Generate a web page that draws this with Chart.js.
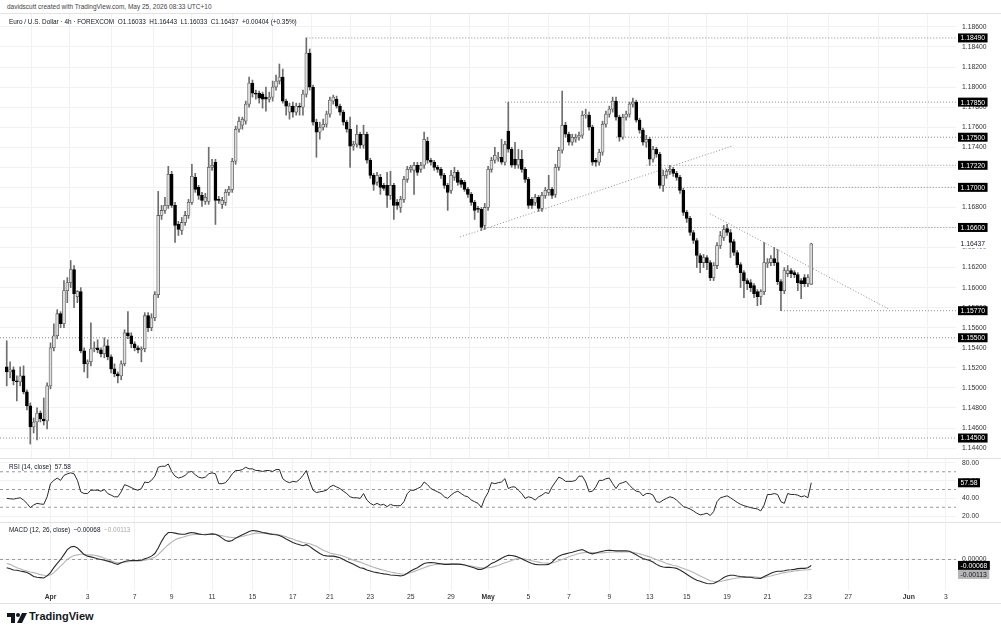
<!DOCTYPE html>
<html>
<head>
<meta charset="utf-8">
<script src="https://cdn.jsdelivr.net/npm/chart.js@4.4.1/dist/chart.umd.min.js"></script>
<style>
  body { margin: 0; background: #fff; width: 1001px; height: 637px; overflow: hidden; position: relative;
         font-family: 'Liberation Sans', Arial, sans-serif; color: #131722; }
  .pane { position: absolute; left: 0; width: 1001px; }
  .txt { position: absolute; white-space: nowrap; font-size: 6.4px; line-height: 8px; }
  .sep { position: absolute; left: 0; width: 1001px; height: 1px; background: #e2e2e2; }
</style>
</head>
<body>
<div class="txt" style="left:7px;top:3px;color:#444;font-size:6.5px">davidscutt created with TradingView.com, May 25, 2026 08:33 UTC+10</div>
<div class="sep" style="top:13px"></div>
<div class="pane" style="top:14px;height:444px"><canvas id="main" width="1001" height="444"></canvas></div>
<div class="sep" style="top:458px"></div>
<div class="pane" style="top:459px;height:63px"><canvas id="rsi" width="1001" height="63"></canvas></div>
<div class="sep" style="top:522px"></div>
<div class="pane" style="top:523px;height:80px"><canvas id="macd" width="1001" height="80"></canvas></div>
<div class="sep" style="top:603px"></div>

<div class="txt" style="left:9px;top:18px">Euro / U.S. Dollar · 4h · FOREXCOM&nbsp;&nbsp;O1.16033&nbsp;&nbsp;H1.16443&nbsp;&nbsp;L1.16033&nbsp;&nbsp;C1.16437&nbsp;&nbsp;+0.00404 (+0.35%)</div>
<div class="txt" style="left:9px;top:463px">RSI (14, close)&nbsp;&nbsp;57.58</div>
<div class="txt" style="left:9px;top:526px">MACD (12, 26, close)&nbsp;&nbsp;−0.00068&nbsp;&nbsp;<span style="color:#aaa">−0.00113</span></div>

<svg style="position:absolute;left:7px;top:613px" width="21" height="10" viewBox="0 0 21 10">
  <path d="M0 0h8v10h-4v-6h-4z" fill="#131722"/>
  <circle cx="11" cy="2" r="2" fill="#131722"/>
  <path d="M15 0h5l-5 10h-5z" fill="#131722"/>
</svg>
<div style="position:absolute;left:29px;top:610px;font-size:11px;font-weight:bold;color:#131722;font-family:'Liberation Sans',Arial,sans-serif">TradingView</div>

<script>
// ---- time axis (bar index of the first bar of each labelled day) ----
var tickBars   = [13, 24, 38, 49, 61, 73, 85, 96, 108, 120, 132, 143, 155, 167, 179, 191, 202, 214, 226, 238, 250, 268, 279];
var tickLabels = ['Apr', '3', '7', '9', '11', '15', '17', '21', '23', '25', '29', 'May', '5', '7', '9', '13', '15', '19', '21', '23', '27', 'Jun', '3'];

// ---- EUR/USD 4h candles ----
var opens = [
  1.1521,1.1516,1.1518,1.1507,1.1506,1.1512,1.1496,1.1482,1.1461,1.1466,
  1.1475,1.1469,1.1467,1.1502,1.1540,1.1552,1.1574,1.1564,1.1597,1.1605,
  1.1618,1.1591,1.1596,1.1537,1.1524,1.1526,1.1539,1.1540,1.1538,1.1534,
  1.1542,1.1531,1.1519,1.1514,1.1512,1.1524,1.1555,1.1552,1.1544,1.1540,
  1.1538,1.1539,1.1572,1.1560,1.1570,1.1593,1.1672,1.1677,1.1682,1.1713,
  1.1682,1.1663,1.1657,1.1665,1.1672,1.1685,1.1710,1.1700,1.1692,1.1686,
  1.1686,1.1720,1.1725,1.1688,1.1683,1.1685,1.1695,1.1698,1.1726,1.1758,
  1.1762,1.1766,1.1783,1.1804,1.1794,1.1794,1.1793,1.1790,1.1788,1.1790,
  1.1800,1.1806,1.1810,1.1786,1.1775,1.1781,1.1775,1.1781,1.1780,1.1793,
  1.1834,1.1800,1.1765,1.1755,1.1760,1.1763,1.1773,1.1786,1.1788,1.1781,
  1.1775,1.1765,1.1758,1.1741,1.1743,1.1753,1.1742,1.1753,1.1727,1.1712,
  1.1705,1.1710,1.1702,1.1702,1.1692,1.1702,1.1685,1.1680,1.1688,1.1708,
  1.1718,1.1717,1.1722,1.1718,1.1722,1.1746,1.1727,1.1725,1.1720,1.1718,
  1.1712,1.1702,1.1697,1.1710,1.1715,1.1707,1.1705,1.1698,1.1693,1.1685,
  1.1679,1.1678,1.1662,1.1680,1.1718,1.1727,1.1729,1.1730,1.1725,1.1756,
  1.1738,1.1728,1.1722,1.1728,1.1718,1.1708,1.1688,1.1685,1.1690,1.1679,
  1.1692,1.1695,1.1698,1.1693,1.1720,1.1737,1.1762,1.1753,1.1745,1.1748,
  1.1750,1.1752,1.1772,1.1772,1.1760,1.1727,1.1725,1.1735,1.1763,1.1773,
  1.1778,1.1786,1.1770,1.1750,1.1770,1.1773,1.1783,1.1785,1.1767,1.1757,
  1.1745,1.1748,1.1728,1.1738,1.1733,1.1702,1.1712,1.1716,1.1718,1.1714,
  1.1710,1.1697,1.1675,1.1669,1.1655,1.1647,1.1632,1.1625,1.1630,1.1625,
  1.1610,1.1622,1.1642,1.1650,1.1659,1.1655,1.1646,1.1635,1.1623,1.1615,
  1.1607,1.1605,1.1602,1.1596,1.1591,1.1596,1.1624,1.1625,1.1629,1.1625,
  1.1606,1.1597,1.1614,1.1617,1.1615,1.1613,1.1607,1.1610,1.1604,1.16033
];
var highs = [
  1.1547,1.1526,1.1521,1.1512,1.1521,1.1522,1.1498,1.1485,1.1470,1.1480,
  1.1477,1.1490,1.1505,1.1545,1.1564,1.1578,1.1576,1.1607,1.1610,1.1627,
  1.1622,1.1597,1.1600,1.1540,1.1528,1.1565,1.1546,1.1548,1.1540,1.1550,
  1.1548,1.1533,1.1524,1.1516,1.1527,1.1558,1.1576,1.1555,1.1546,1.1542,
  1.1541,1.1575,1.1575,1.1574,1.1596,1.1696,1.1682,1.1690,1.1721,1.1716,
  1.1685,1.1666,1.1670,1.1676,1.1688,1.1723,1.1714,1.1702,1.1695,1.1694,
  1.1740,1.1728,1.1728,1.1691,1.1690,1.1698,1.1701,1.1729,1.1761,1.1770,
  1.1770,1.1786,1.1810,1.1807,1.1797,1.1796,1.1795,1.1800,1.1795,1.1806,
  1.1812,1.1823,1.1818,1.1788,1.1784,1.1785,1.1784,1.1784,1.1797,1.1849,
  1.1838,1.1802,1.1768,1.1765,1.1768,1.1776,1.1790,1.1792,1.1791,1.1783,
  1.1777,1.1767,1.1770,1.1746,1.1762,1.1755,1.1762,1.1755,1.1729,1.1714,
  1.1715,1.1713,1.1704,1.1715,1.1716,1.1704,1.1688,1.1691,1.1711,1.1721,
  1.1722,1.1725,1.1725,1.1725,1.1755,1.1750,1.1729,1.1727,1.1722,1.1720,
  1.1714,1.1704,1.1717,1.1720,1.1717,1.1709,1.1707,1.1700,1.1695,1.1687,
  1.1681,1.1680,1.1684,1.1721,1.1730,1.1740,1.1735,1.1748,1.1746,1.1785,
  1.1740,1.1745,1.1738,1.1737,1.1720,1.1710,1.1690,1.1693,1.1692,1.1695,
  1.1700,1.1712,1.1700,1.1723,1.1740,1.1796,1.1765,1.1755,1.1753,1.1753,
  1.1755,1.1776,1.1778,1.1775,1.1762,1.1729,1.1738,1.1766,1.1776,1.1781,
  1.1790,1.1790,1.1772,1.1773,1.1776,1.1785,1.1789,1.1787,1.1769,1.1759,
  1.1752,1.1750,1.1741,1.1740,1.1735,1.1717,1.1718,1.1722,1.1720,1.1716,
  1.1712,1.1699,1.1677,1.1671,1.1657,1.1649,1.1634,1.1633,1.1632,1.1627,
  1.1625,1.1645,1.1656,1.1662,1.1663,1.1658,1.1648,1.1637,1.1625,1.1617,
  1.1609,1.1608,1.1604,1.1598,1.1598,1.1645,1.1629,1.1632,1.1640,1.1638,
  1.1608,1.1620,1.1622,1.1619,1.1617,1.1615,1.1609,1.1613,1.1613,1.16443
];
var lows = [
  1.1502,1.1510,1.1503,1.1487,1.1502,1.1494,1.1478,1.1444,1.1455,1.1448,
  1.1466,1.1463,1.1459,1.1499,1.1537,1.1549,1.1560,1.1560,1.1585,1.1600,
  1.1580,1.1585,1.1535,1.1516,1.1510,1.1522,1.1536,1.1535,1.1531,1.1530,
  1.1528,1.1515,1.1511,1.1505,1.1508,1.1522,1.1549,1.1540,1.1537,1.1535,
  1.1526,1.1536,1.1556,1.1557,1.1567,1.1590,1.1668,1.1674,1.1679,1.1680,
  1.1645,1.1652,1.1653,1.1662,1.1669,1.1683,1.1695,1.1688,1.1681,1.1683,
  1.1683,1.1717,1.1663,1.1684,1.1679,1.1682,1.1692,1.1695,1.1723,1.1755,
  1.1758,1.1763,1.1780,1.1790,1.1788,1.1784,1.1779,1.1776,1.1785,1.1786,
  1.1797,1.1803,1.1784,1.1772,1.1768,1.1770,1.1772,1.1772,1.1772,1.1790,
  1.1797,1.1762,1.1730,1.1748,1.1757,1.1760,1.1770,1.1783,1.1779,1.1772,
  1.1762,1.1755,1.1720,1.1737,1.1740,1.1739,1.1739,1.1724,1.1709,1.1697,
  1.1702,1.1693,1.1697,1.1680,1.1688,1.1668,1.1678,1.1675,1.1685,1.1705,
  1.1715,1.1693,1.1712,1.1715,1.1719,1.1724,1.1722,1.1717,1.1715,1.1709,
  1.1699,1.1677,1.1694,1.1707,1.1702,1.1700,1.1696,1.1690,1.1682,1.1668,
  1.1675,1.1657,1.1658,1.1677,1.1715,1.1724,1.1726,1.1723,1.1722,1.1735,
  1.1720,1.1719,1.1719,1.1715,1.1705,1.1679,1.1679,1.1682,1.1676,1.1676,
  1.1689,1.1692,1.1689,1.1690,1.1717,1.1734,1.1750,1.1742,1.1742,1.1745,
  1.1747,1.1749,1.1769,1.1757,1.1722,1.1721,1.1722,1.1732,1.1760,1.1770,
  1.1775,1.1767,1.1746,1.1748,1.1767,1.1770,1.1780,1.1765,1.1754,1.1742,
  1.1740,1.1722,1.1725,1.1730,1.1699,1.1696,1.1709,1.1713,1.1711,1.1707,
  1.1694,1.1672,1.1665,1.1652,1.1644,1.1620,1.1615,1.1620,1.1618,1.1607,
  1.1607,1.1619,1.1639,1.1647,1.1652,1.1630,1.1632,1.1620,1.1600,1.1590,
  1.1598,1.1596,1.1590,1.1582,1.1583,1.1593,1.1620,1.1622,1.1622,1.1603,
  1.1577,1.1594,1.1611,1.1610,1.1610,1.1597,1.1589,1.1601,1.1601,1.16033
];
var closes = [
  1.1516,1.1518,1.1507,1.1506,1.1512,1.1496,1.1482,1.1461,1.1466,1.1475,
  1.1469,1.1467,1.1502,1.1540,1.1552,1.1574,1.1564,1.1597,1.1605,1.1618,
  1.1594,1.1596,1.1537,1.1524,1.1526,1.1539,1.1540,1.1538,1.1534,1.1542,
  1.1531,1.1519,1.1514,1.1512,1.1524,1.1555,1.1552,1.1544,1.1540,1.1538,
  1.1539,1.1572,1.1560,1.1570,1.1593,1.1672,1.1677,1.1682,1.1713,1.1682,
  1.1662,1.1658,1.1665,1.1672,1.1685,1.1711,1.1698,1.1692,1.1687,1.1690,
  1.1720,1.1722,1.1687,1.1687,1.1687,1.1695,1.1698,1.1726,1.1758,1.1766,
  1.1768,1.1783,1.1804,1.1794,1.1793,1.1789,1.1788,1.1788,1.1790,1.1800,
  1.1806,1.1810,1.1786,1.1781,1.1781,1.1775,1.1781,1.1780,1.1793,1.1834,
  1.1800,1.1765,1.1755,1.1760,1.1763,1.1773,1.1787,1.1790,1.1781,1.1775,
  1.1765,1.1758,1.1741,1.1743,1.1753,1.1742,1.1753,1.1727,1.1712,1.1703,
  1.1712,1.1700,1.1699,1.1692,1.1702,1.1682,1.1682,1.1688,1.1708,1.1718,
  1.1720,1.1722,1.1715,1.1722,1.1748,1.1727,1.1725,1.1720,1.1718,1.1712,
  1.1702,1.1695,1.1712,1.1715,1.1705,1.1703,1.1698,1.1693,1.1685,1.1677,
  1.1678,1.1660,1.1680,1.1718,1.1727,1.1732,1.1730,1.1725,1.1743,1.1738,
  1.1722,1.1722,1.1728,1.1718,1.1708,1.1682,1.1682,1.1690,1.1679,1.1692,
  1.1697,1.1698,1.1692,1.1720,1.1737,1.1762,1.1753,1.1745,1.1750,1.1750,
  1.1752,1.1772,1.1773,1.1760,1.1725,1.1725,1.1735,1.1763,1.1773,1.1778,
  1.1786,1.1770,1.1750,1.1770,1.1773,1.1783,1.1785,1.1767,1.1757,1.1745,
  1.1748,1.1728,1.1738,1.1733,1.1702,1.1712,1.1716,1.1718,1.1714,1.1710,
  1.1697,1.1675,1.1669,1.1655,1.1647,1.1632,1.1625,1.1630,1.1625,1.1610,
  1.1622,1.1642,1.1652,1.1658,1.1655,1.1645,1.1635,1.1623,1.1615,1.1607,
  1.1604,1.1600,1.1594,1.1591,1.1596,1.1625,1.1625,1.1629,1.1625,1.1606,
  1.1597,1.1617,1.1617,1.1614,1.1613,1.1605,1.1604,1.1604,1.1610,1.16437
];

// ---- drawn levels and trendlines ----
var levelPrices = [1.1849, 1.1785, 1.1750, 1.1722, 1.1700, 1.1660, 1.1577, 1.1550, 1.1450];
var levelFrom   = [89, 148, 181, 190, 194, 141, 230, -2, -2];
var trendUp   = [[134.7, 1.16505], [215.9, 1.17417]];
var trendDown = [[208.9, 1.16738], [261.8, 1.15790]];

var priceTicks = [1.144, 1.146, 1.148, 1.150, 1.152, 1.154, 1.156, 1.158, 1.160, 1.162, 1.164,
                  1.166, 1.168, 1.170, 1.172, 1.174, 1.176, 1.178, 1.180, 1.182, 1.184, 1.186];

// ---- RSI (14, close) ----
var rsi = [
  40.0,39.6,39.2,40.0,40.7,38.1,34.4,29.6,32.5,34.4,
  33.7,33.3,41.8,56.6,60.3,62.9,60.3,65.9,67.7,68.8,
  67.7,60.3,47.4,45.5,45.5,49.2,49.2,49.2,48.1,50.0,
  45.5,43.7,41.8,41.8,47.4,55.5,54.0,52.2,50.3,49.2,
  51.1,58.5,57.7,60.3,65.1,75.1,76.2,76.2,78.8,70.3,
  65.1,62.9,64.0,65.9,69.6,70.3,66.6,64.0,62.9,64.0,
  67.7,68.8,67.7,56.6,56.6,57.7,62.2,67.7,71.4,71.4,
  72.5,75.1,73.3,73.3,71.4,71.4,70.3,71.4,71.4,70.3,
  72.5,72.5,62.2,59.2,57.7,59.2,58.5,61.4,65.9,71.4,
  59.2,49.2,46.6,47.4,48.1,49.2,52.9,54.8,52.9,51.1,
  48.1,45.5,41.8,40.7,40.7,40.0,45.5,38.1,34.4,32.5,
  34.4,32.5,33.3,30.7,33.3,31.8,31.8,31.8,36.3,45.5,
  49.2,49.2,51.1,52.9,58.5,55.5,51.1,49.2,47.4,45.5,
  41.8,40.0,43.7,46.6,48.1,45.5,42.9,41.8,38.1,36.3,
  34.4,30.0,40.0,46.6,57.7,56.6,57.7,58.5,62.2,
  51.1,52.9,52.9,49.2,45.5,40.0,41.8,40.7,38.1,41.8,
  43.7,46.6,45.5,52.9,58.5,64.0,62.2,59.2,59.2,59.2,
  60.3,65.1,65.1,58.5,47.4,48.1,52.9,60.3,60.3,62.2,
  62.9,56.6,51.1,56.6,57.7,59.2,54.8,51.1,48.1,47.4,
  42.9,45.5,45.5,43.7,36.3,35.5,38.1,40.0,41.8,40.7,
  38.1,34.4,30.7,29.6,28.1,25.9,23.3,21.4,22.2,23.3,
  20.7,25.1,36.3,40.7,41.8,42.9,40.7,38.1,35.5,33.3,
  31.8,30.7,29.6,28.8,28.1,25.9,32.5,44.4,44.4,45.5,
  44.4,36.3,34.4,45.5,44.4,44.4,43.7,41.8,42.9,40.7,
  57.58
];
var rsiLevels = [70, 50, 30];
var rsiTicks = [20, 40, 60, 80];

// ---- MACD (12, 26, close) ----
var macd = [
  -0.00094,-0.00105,-0.00120,-0.00124,-0.00132,-0.00139,-0.00150,-0.00169,-0.00195,-0.00203,
  -0.00207,-0.00211,-0.00188,-0.00150,-0.00094,-0.00045,0,0.00056,0.00113,0.00143,
  0.00150,0.00132,0.00094,0.00056,0.00038,0.00030,0.00019,0.00008,0,-0.00008,
  -0.00019,-0.00030,-0.00045,-0.00056,-0.00038,-0.00023,-0.00015,-0.00011,-0.00011,-0.00011,
  -0.00008,0.00008,0.00019,0.00038,0.00068,0.00132,0.00207,0.00271,0.00308,0.00308,
  0.00301,0.00293,0.00289,0.00289,0.00301,0.00308,0.00301,0.00293,0.00286,0.00282,
  0.00289,0.00293,0.00289,0.00271,0.00244,0.00218,0.00207,0.00218,0.00244,0.00263,
  0.00282,0.00301,0.00320,0.00331,0.00327,0.00320,0.00308,0.00301,0.00293,0.00286,
  0.00282,0.00274,0.00256,0.00233,0.00214,0.00195,0.00180,0.00169,0.00158,0.00169,
  0.00150,0.00120,0.00094,0.00068,0.00049,0.00041,0.00038,0.00038,0.00030,0.00019,
  0,-0.00019,-0.00038,-0.00056,-0.00075,-0.00094,-0.00102,-0.00120,-0.00132,-0.00143,
  -0.00150,-0.00158,-0.00165,-0.00169,-0.00177,-0.00180,-0.00184,-0.00188,-0.00180,-0.00158,
  -0.00132,-0.00113,-0.00094,-0.00068,-0.00045,-0.00038,-0.00034,-0.00038,-0.00045,-0.00049,
  -0.00056,-0.00056,-0.00053,-0.00053,-0.00053,-0.00056,-0.00064,-0.00075,-0.00086,-0.00098,
  -0.00113,-0.00113,-0.00098,-0.00075,-0.00045,-0.00030,-0.00008,0.00015,0.00034,
  0.00049,0.00045,0.00038,0.00026,0.00008,-0.00011,-0.00030,-0.00045,-0.00056,-0.00060,
  -0.00060,-0.00060,-0.00056,-0.00030,0.00008,0.00038,0.00053,0.00064,0.00075,0.00083,
  0.00094,0.00105,0.00113,0.00094,0.00075,0.00064,0.00075,0.00086,0.00094,0.00102,
  0.00105,0.00102,0.00098,0.00098,0.00098,0.00098,0.00094,0.00075,0.00053,0.00030,
  0.00011,0,-0.00011,-0.00030,-0.00056,-0.00075,-0.00086,-0.00090,-0.00090,-0.00094,
  -0.00102,-0.00120,-0.00143,-0.00169,-0.00195,-0.00218,-0.00237,-0.00248,-0.00263,-0.00274,
  -0.00278,-0.00274,-0.00256,-0.00233,-0.00207,-0.00188,-0.00180,-0.00180,-0.00188,-0.00195,
  -0.00199,-0.00203,-0.00203,-0.00211,-0.00214,-0.00218,-0.00195,-0.00177,-0.00158,-0.00143,
  -0.00135,-0.00135,-0.00128,-0.00120,-0.00117,-0.00113,-0.00105,-0.00102,-0.00102,-0.00094,
  -0.00068
];
var signal = [
  -0.00045,-0.00056,-0.00075,-0.00094,-0.00105,-0.00120,-0.00132,-0.00143,-0.00150,-0.00162,
  -0.00173,-0.00180,-0.00184,-0.00177,-0.00150,-0.00113,-0.00075,-0.00038,0,0.00026,
  0.00045,0.00053,0.00060,0.00060,0.00056,0.00053,0.00049,0.00041,0.00030,0.00015,
  0,-0.00015,-0.00030,-0.00038,-0.00038,-0.00030,-0.00026,-0.00023,-0.00019,-0.00019,
  -0.00015,-0.00008,0,0.00011,0.00026,0.00056,0.00094,0.00132,0.00169,0.00199,
  0.00226,0.00241,0.00252,0.00263,0.00274,0.00282,0.00286,0.00286,0.00286,0.00289,
  0.00289,0.00289,0.00286,0.00278,0.00271,0.00263,0.00256,0.00252,0.00248,0.00256,
  0.00263,0.00274,0.00282,0.00293,0.00301,0.00301,0.00301,0.00301,0.00297,0.00293,
  0.00289,0.00282,0.00271,0.00259,0.00244,0.00233,0.00218,0.00207,0.00195,0.00188,
  0.00180,0.00165,0.00150,0.00128,0.00105,0.00090,0.00075,0.00064,0.00056,0.00049,
  0.00038,0.00023,0.00008,-0.00008,-0.00019,-0.00030,-0.00045,-0.00060,-0.00075,-0.00090,
  -0.00102,-0.00113,-0.00124,-0.00135,-0.00143,-0.00150,-0.00158,-0.00165,-0.00169,-0.00162,
  -0.00150,-0.00139,-0.00124,-0.00109,-0.00094,-0.00079,-0.00068,-0.00060,-0.00056,-0.00053,
  -0.00053,-0.00053,-0.00053,-0.00053,-0.00056,-0.00056,-0.00060,-0.00068,-0.00075,-0.00083,
  -0.00090,-0.00094,-0.00098,-0.00094,-0.00090,-0.00079,-0.00068,-0.00053,-0.00038,
  -0.00026,-0.00011,0.00004,0.00011,0.00011,0.00004,-0.00004,-0.00015,-0.00023,-0.00030,
  -0.00038,-0.00041,-0.00045,-0.00041,-0.00030,-0.00015,0,0.00015,0.00030,0.00045,
  0.00056,0.00068,0.00075,0.00079,0.00083,0.00079,0.00075,0.00075,0.00075,0.00079,
  0.00083,0.00086,0.00086,0.00086,0.00086,0.00086,0.00086,0.00083,0.00075,0.00064,
  0.00053,0.00041,0.00030,0.00015,0,-0.00015,-0.00030,-0.00045,-0.00056,-0.00068,
  -0.00075,-0.00090,-0.00102,-0.00117,-0.00132,-0.00150,-0.00169,-0.00188,-0.00207,-0.00226,
  -0.00244,-0.00252,-0.00256,-0.00252,-0.00244,-0.00233,-0.00226,-0.00218,-0.00211,-0.00207,
  -0.00203,-0.00199,-0.00199,-0.00199,-0.00203,-0.00207,-0.00207,-0.00195,-0.00188,-0.00177,
  -0.00169,-0.00158,-0.00150,-0.00143,-0.00139,-0.00132,-0.00128,-0.00124,-0.00120,-0.00117,
  -0.00113
];

// visible bar range of the time axis (left edge .. right edge incl. empty future)
var X_MIN = -2, X_MAX = 282;
var GRID = '#f1f1f1';
var FONT = { family: "'Liberation Sans', Arial, sans-serif", size: 6.8 };
Chart.defaults.font.family = FONT.family;
Chart.defaults.font.size = FONT.size;

function xAxis(withLabels) {
  return {
    type: 'linear', min: X_MIN, max: X_MAX, offset: false,
    grid: { color: GRID, drawTicks: false },
    border: { display: false },
    afterBuildTicks: function (s) { s.ticks = tickBars.map(function (v) { return { value: v }; }); },
    afterFit: function (s) { s.height = withLabels ? 13 : 0; s.paddingLeft = 0; s.paddingRight = 0; },
    ticks: {
      display: withLabels, autoSkip: false, maxRotation: 0, padding: 3, color: '#333',
      font: function (c) { return { size: 6.8, weight: /[A-Za-z]/.test(tickLabels[c.index] || '') ? 'bold' : 'normal' }; },
      callback: function (v, i) { return tickLabels[i]; }
    }
  };
}

function yAxis(min, max, ticks, digits) {
  return {
    position: 'right', min: min, max: max,
    grid: { color: GRID, drawTicks: false },
    border: { display: false },
    afterBuildTicks: function (s) { s.ticks = ticks.map(function (v) { return { value: v }; }); },
    afterFit: function (s) { s.width = 45; s.paddingTop = 0; s.paddingBottom = 0; },
    ticks: { padding: 6, color: '#333', callback: function (v) { return v.toFixed(digits); } }
  };
}

// price tags on the right scale
var tagPlugin = {
  id: 'tags',
  afterDraw: function (chart, args, opts) {
    var ctx = chart.ctx, y = chart.scales.y, left = chart.chartArea.right + 2;
    ctx.save();
    ctx.font = '6.8px ' + FONT.family;
    ctx.textBaseline = 'middle';
    var lastY = -100;
    opts.items.forEach(function (it) {
      var py = y.getPixelForValue(it.v);
      if (it.below && py < lastY + 9) py = lastY + 9;
      lastY = py;
      var w = ctx.measureText(it.t).width + 5;
      ctx.fillStyle = it.bg;
      ctx.fillRect(left, py - 4.5, w, 9);
      ctx.fillStyle = it.fg;
      ctx.fillText(it.t, left + 2.5, py + 0.5);
    });
    ctx.restore();
  }
};

function flatLine(y, color, dash) {
  return { type: 'line', data: [{ x: X_MIN, y: y }, { x: X_MAX, y: y }], borderColor: color,
           borderWidth: 1, borderDash: dash, pointRadius: 0, order: 5 };
}

var common = { responsive: false, animation: false, events: [],
               layout: { padding: 0 },
               plugins: { legend: { display: false }, tooltip: { enabled: false } } };

// ---------- main pane ----------
var mainSets = [
  { type: 'bar', grouped: false, order: 3, barThickness: 1,
    data: lows.map(function (l, i) { return { x: i, y: [l, highs[i]] }; }),
    backgroundColor: '#6e6e6e' },
  { type: 'bar', grouped: false, order: 2, barThickness: 3, minBarLength: 1,
    data: opens.map(function (o, i) { return { x: i, y: [o, closes[i]] }; }),
    backgroundColor: function (c) { return closes[c.dataIndex] >= opens[c.dataIndex] ? '#dedede' : '#000000'; },
    borderColor: function (c) { return closes[c.dataIndex] >= opens[c.dataIndex] ? '#5c5c5c' : '#000000'; },
    borderWidth: 0.8, borderSkipped: false }
];
levelPrices.forEach(function (p, k) {
  mainSets.push({ type: 'line', data: [{ x: levelFrom[k], y: p }, { x: X_MAX, y: p }],
    borderColor: '#8d8d8d', borderWidth: 1, borderDash: [1, 2], pointRadius: 0, order: 5 });
});
[trendUp, trendDown].forEach(function (t) {
  mainSets.push({ type: 'line', data: t.map(function (q) { return { x: q[0], y: q[1] }; }),
    borderColor: '#8d8d8d', borderWidth: 1, borderDash: [1, 2], pointRadius: 0, order: 5 });
});

var tagItems = levelPrices.map(function (p) { return { v: p, t: p.toFixed(5), bg: '#000', fg: '#fff' }; });
tagItems.push({ v: closes[closes.length - 1], t: closes[closes.length - 1].toFixed(5), bg: '#fff', fg: '#131722' });

new Chart(document.getElementById('main'), {
  type: 'bar',
  data: { datasets: mainSets },
  options: Object.assign({}, common, {
    scales: { x: xAxis(false), y: yAxis(1.143009, 1.187288, priceTicks, 5) },
    plugins: Object.assign({}, common.plugins, { tags: { items: tagItems } })
  }),
  plugins: [tagPlugin]
});

// ---------- RSI pane ----------
var rsiSets = [{ type: 'line', data: rsi.map(function (v, i) { return { x: i, y: v }; }),
                 borderColor: '#2a2a2a', borderWidth: 1, pointRadius: 0, tension: 0, order: 1 }];
rsiLevels.forEach(function (v) { rsiSets.push(flatLine(v, '#9a9a9a', [3, 3])); });

new Chart(document.getElementById('rsi'), {
  type: 'line',
  data: { datasets: rsiSets },
  options: Object.assign({}, common, {
    scales: { x: xAxis(false), y: yAxis(13.4, 84.4, rsiTicks, 2) },
    plugins: Object.assign({}, common.plugins, {
      tags: { items: [{ v: rsi[rsi.length - 1], t: rsi[rsi.length - 1].toFixed(2), bg: '#000', fg: '#fff' }] } })
  }),
  plugins: [tagPlugin]
});

// ---------- MACD pane ----------
new Chart(document.getElementById('macd'), {
  type: 'line',
  data: { datasets: [
    { data: macd.map(function (v, i) { return { x: i, y: v }; }), borderColor: '#2a2a2a', borderWidth: 1.1, pointRadius: 0, order: 1 },
    { data: signal.map(function (v, i) { return { x: i, y: v }; }), borderColor: '#b5b5b5', borderWidth: 1.1, pointRadius: 0, order: 2 },
    flatLine(0, '#9a9a9a', [3, 3])
  ] },
  options: Object.assign({}, common, {
    scales: { x: xAxis(true), y: yAxis(-0.00349, 0.00417, [0], 5) },
    plugins: Object.assign({}, common.plugins, {
      tags: { items: [
        { v: macd[macd.length - 1], t: macd[macd.length - 1].toFixed(5), bg: '#000', fg: '#fff' },
        { v: signal[signal.length - 1], t: signal[signal.length - 1].toFixed(5), bg: '#b5b5b5', fg: '#131722', below: true }
      ] } })
  }),
  plugins: [tagPlugin]
});
</script>
</body>
</html>
